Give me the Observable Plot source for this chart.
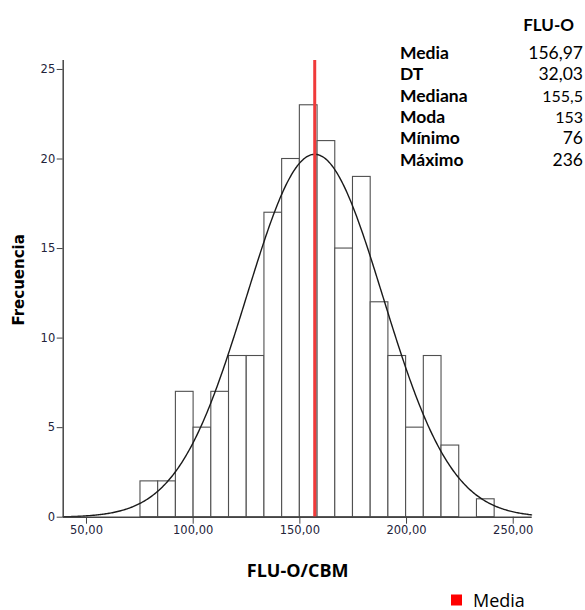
<!DOCTYPE html>
<html>
<head>
<meta charset="utf-8">
<script src="https://cdn.jsdelivr.net/npm/d3@7"></script>
<script src="https://cdn.jsdelivr.net/npm/@observablehq/plot@0.6"></script>
<style>
  html, body { margin: 0; padding: 0; background: white; }
  #wrap { position: relative; width: 585px; height: 610px; overflow: hidden; }
  #wrap svg { position: absolute; left: 0; top: 0; }
</style>
</head>
<body>
<div id="wrap"></div>
<script>
// ---- data ----
const binEdges = [75.3, 83.6, 91.9, 100.2, 108.5, 116.8, 125.1, 133.4, 141.7, 150.0, 158.3,
                  166.6, 174.9, 183.2, 191.5, 199.8, 208.1, 216.4, 224.7, 233.0, 241.3];
const binCounts = [2, 2, 7, 5, 7, 9, 9, 17, 20, 23, 21, 15, 19, 12, 9, 5, 9, 4, 0, 1];
const xTicks = [50, 100, 150, 200, 250];
const yTicks = [0, 5, 10, 15, 20, 25];
const meanValue = 156.97;
const sdValue = 32.03;
const statHeader = "FLU-O";
const statLabels = ["Media", "DT", "Mediana", "Moda", "Mínimo", "Máximo"];
const statValues = ["156,97", "32,03", "155,5", "153", "76", "236"];
const xLabel = "FLU-O/CBM";
const yLabel = "Frecuencia";
const legendLabel = "Media";

// ---- derived tables ----
const bins = binCounts.map((c, i) => ({x1: binEdges[i], x2: binEdges[i + 1], count: c}));
const nTotal = d3.sum(binCounts);
const binWidth = (binEdges[binEdges.length - 1] - binEdges[0]) / binCounts.length;
const xDomain = [39.08, 258.9];
const yDomain = [0, 25.5];
// fitted normal curve (from mean, SD, N and bin width)
const normal = x => nTotal * binWidth * Math.exp(-0.5 * ((x - meanValue) / sdValue) ** 2) / (sdValue * Math.sqrt(2 * Math.PI));
const curvePts = d3.range(xDomain[0], xDomain[1] + 0.01, 0.5).map(x => ({x, y: normal(x)}));

const fmt = d => d.toFixed(2).replace(".", ",");
const axisColor = "#444";

const chart = Plot.plot({
  width: 585,
  height: 610,
  marginLeft: 62.7,
  marginRight: 53.3,
  marginTop: 60,
  marginBottom: 93.3,
  x: {domain: xDomain},
  y: {domain: yDomain},
  style: {background: "white", fontFamily: "'DejaVu Sans', sans-serif", fontSize: "11.5px", color: "#23233a"},
  marks: [
    Plot.rectY(bins, {x1: "x1", x2: "x2", y: "count", fill: "white", stroke: "#505050", strokeWidth: 1.1}),
    Plot.line(curvePts, {x: "x", y: "y", stroke: "#1a1a1a", strokeWidth: 1.4}),
    Plot.ruleX([meanValue], {y1: yDomain[0], y2: yDomain[1], stroke: "#f03a3a", strokeWidth: 3}),
    Plot.ruleY([0], {stroke: axisColor, strokeWidth: 1.5}),
    Plot.ruleX([xDomain[0]], {stroke: axisColor, strokeWidth: 1.5}),
    Plot.axisX({ticks: xTicks, tickFormat: fmt, tickSize: 7, tickPadding: 2, label: null, stroke: axisColor}),
    Plot.axisY({ticks: yTicks, tickSize: 6, tickPadding: 2, label: null, stroke: axisColor}),
    Plot.text([xLabel], {frameAnchor: "bottom", dy: 60, text: d => d, fontWeight: "bold",
      fontSize: 18, fontFamily: "'Open Sans', sans-serif", fill: "black"}),
    Plot.text([yLabel], {frameAnchor: "left", dx: -44, dy: -9, rotate: -90, textAnchor: "middle", text: d => d,
      fontWeight: "bold", fontSize: 15, fontFamily: "'DejaVu Sans', sans-serif", fill: "black"})
  ]
});
document.getElementById("wrap").appendChild(chart);

// ---- statistics table and legend overlay ----
const overlay = d3.select("#wrap").append("svg")
  .attr("width", 585).attr("height", 610)
  .style("font-family", "Lato, sans-serif");

overlay.append("text").attr("x", 574).attr("y", 31).attr("text-anchor", "end")
  .attr("font-weight", "bold").attr("font-size", 17).text(statHeader);

const rowBase = [59, 80.3, 101.6, 122.9, 144.2, 165.5];
const valueSizes = [17.5, 17.5, 16, 16, 17.5, 17.5];
statLabels.forEach((lab, i) => {
  overlay.append("text").attr("x", 400).attr("y", rowBase[i])
    .attr("font-weight", "bold").attr("font-size", 17.5).text(lab);
  overlay.append("text").attr("x", 583).attr("y", rowBase[i]).attr("text-anchor", "end")
    .attr("font-size", valueSizes[i]).text(statValues[i]);
});

overlay.append("rect").attr("x", 451).attr("y", 594.5).attr("width", 11).attr("height", 11).attr("fill", "#ff0000");
overlay.append("text").attr("x", 473).attr("y", 606.5).attr("font-size", 18).attr("font-family", "'Open Sans', sans-serif").text(legendLabel);
</script>
</body>
</html>
